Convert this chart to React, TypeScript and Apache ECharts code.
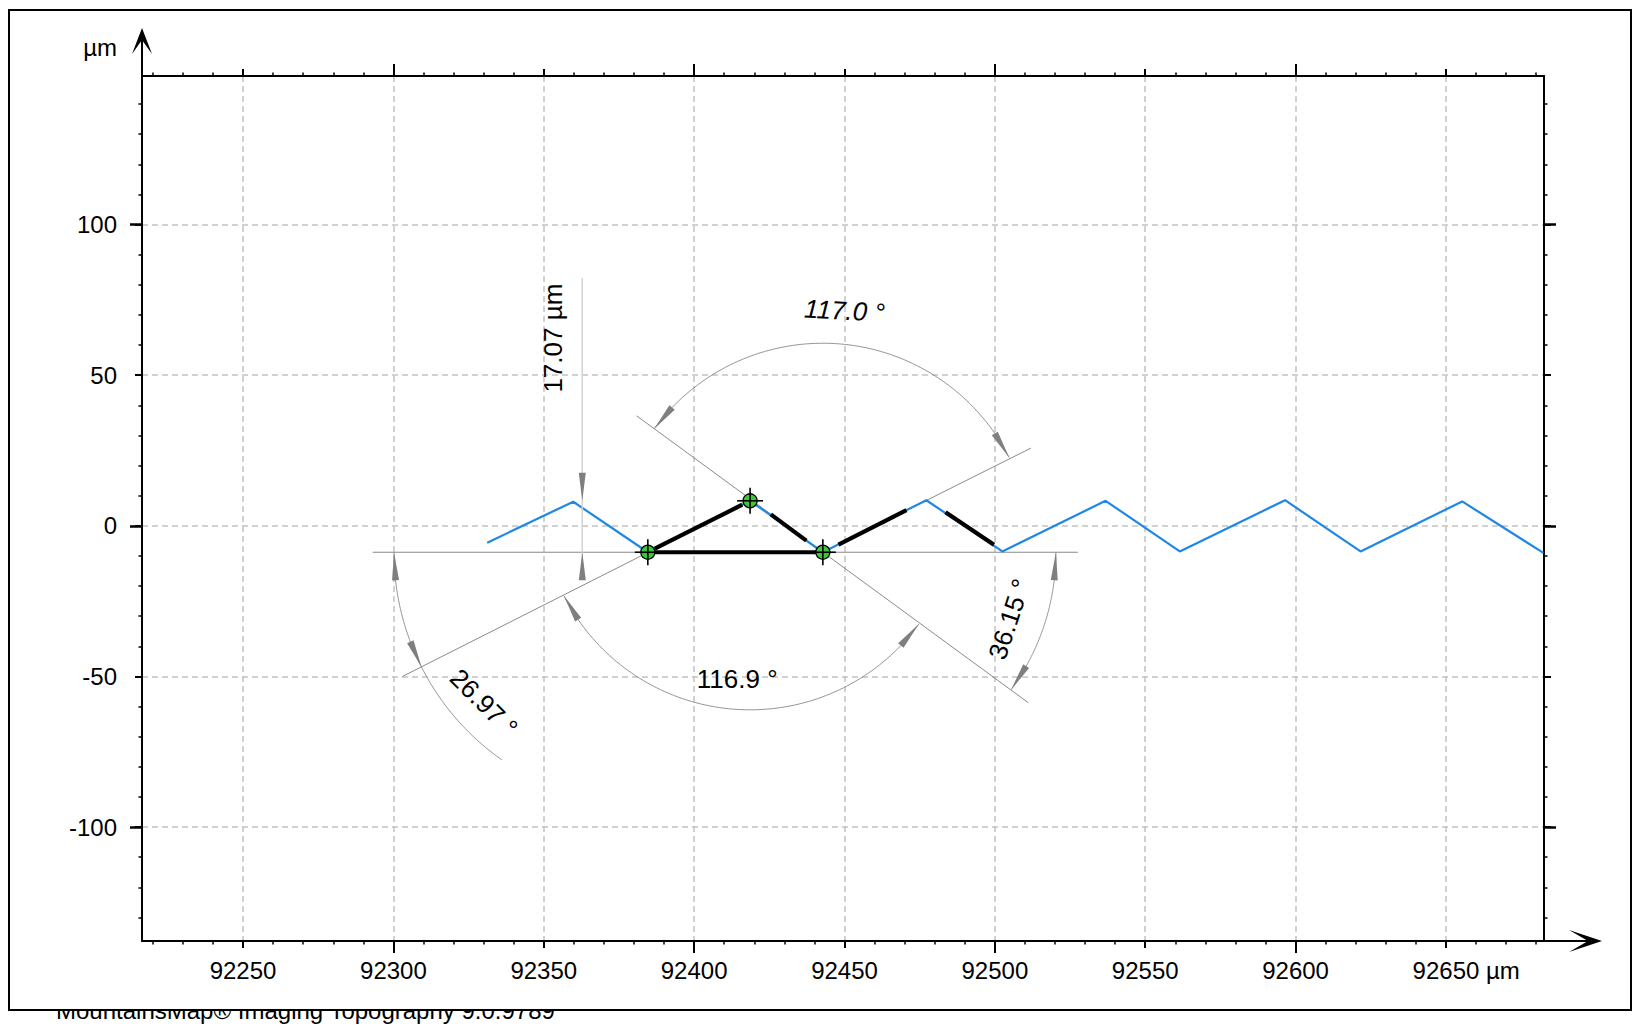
import React, { useEffect, useRef } from 'react';
import * as echarts from 'echarts';

// ---------- axes ----------
const X_MIN = 92216.4;
const X_MAX = 92682.6;
const Y_MIN = -137.8;
const Y_MAX = 149.3;
const X_TICK_LABELS = [92250, 92300, 92350, 92400, 92450, 92500, 92550, 92600, 92650];
const X_LONG_TICKS = [92300, 92400, 92500, 92600];
const Y_TICK_LABELS = [-100, -50, 0, 50, 100];
const Y_LONG_TICKS = [-100, 0, 100];
const X_UNIT = 'µm';
const Y_UNIT = 'µm';
const FOOTER = 'MountainsMap® Imaging Topography 9.0.9789';

// ---------- profile (µm) ----------
const PROFILE_X = [92331.2, 92359.8, 92384.6, 92418.6, 92442.8, 92477.2, 92502.5, 92536.8, 92561.5, 92596.5, 92621.6, 92655.4, 92682.4];
const PROFILE_Y = [-5.6, 8.0, -8.77, 8.3, -8.77, 8.5, -8.5, 8.3, -8.5, 8.5, -8.5, 8.1, -9.0];

// ---------- fitted segments (thick black) ----------
const FIT_X1 = [92384.6, 92386.9, 92425.5, 92448.0, 92483.6];
const FIT_Y1 = [-8.77, -7.6, 3.8, -6.2, 4.5];
const FIT_X2 = [92442.8, 92416.0, 92437.3, 92470.6, 92499.7];
const FIT_Y2 = [-8.77, 7.0, -4.9, 5.2, -6.3];

// ---------- construction lines (thin grey) ----------
const REF_X1 = [92293.1, 92303.0, 92380.9, 92442.8];
const REF_Y1 = [-8.77, -50.0, 36.5, -8.77];
const REF_X2 = [92527.6, 92418.6, 92511.1, 92512.0];
const REF_Y2 = [-8.77, 8.3, -58.7, 25.8];

// ---------- picked points ----------
const MARKER_X = [92384.6, 92418.6, 92442.8];
const MARKER_Y = [-8.77, 8.3, -8.77];

// ---------- angle measurements ----------
const ANGLE_LABELS = ['116.9 °', '117.0 °', '26.97 °', '36.15 °'];
const ANGLE_CX = [92418.6, 92442.8, 92384.6, 92442.8];
const ANGLE_CY = [8.3, -8.77, -8.77, -8.77];
const ANGLE_R = [69.5, 69.5, 84.4, 77.5];
const ANGLE_FROM = [206.97, 26.97, 180, -36.15];
const ANGLE_TO = [323.85, 143.85, 206.97, 0];
const ANGLE_ARC_END = [323.85, 143.85, 234.9, 0];
const ANGLE_LABEL_X = [92414.3, 92450.0, 92330.1, 92504.8];
const ANGLE_LABEL_Y = [-50.8, 71.4, -58.7, -31.0];
const ANGLE_LABEL_ROT = [0, -3, -45, 72];
const ANGLE_LABEL_ITALIC = [false, true, false, false];

// ---------- height measurement ----------
const HEIGHT_X = [92362.8];
const HEIGHT_HIGH = [8.3];
const HEIGHT_LOW = [-8.77];
const HEIGHT_LINE_TOP = [82.2];
const HEIGHT_LABEL = ['17.07 µm'];
const HEIGHT_LABEL_X = [92353.0];
const HEIGHT_LABEL_Y = [62.3];

// ---------- layout / style ----------
const FONT = "'Liberation Sans', Arial, sans-serif";
const GRID_LEFT = 142;
const GRID_TOP = 76;
const GRID_W = 1402;
const GRID_H = 865;
const ARROW_LEN = 28;
const ARROW_HALF = 3.5;
const ARROW_COLOR = '#7f7f7f';

const gridLine = { show: true, lineStyle: { color: '#c2c2c2', width: 1.5, type: [6, 4] as any } };

function arrowPoly(tip: number[], base: number[]) {
  const vx = tip[0] - base[0];
  const vy = tip[1] - base[1];
  const len = Math.hypot(vx, vy) || 1;
  const nx = (-vy / len) * ARROW_HALF;
  const ny = (vx / len) * ARROW_HALF;
  return {
    type: 'polygon',
    shape: { points: [tip, [base[0] + nx, base[1] + ny], [base[0] - nx, base[1] - ny]] },
    style: { fill: ARROW_COLOR },
  };
}

function buildOption() {
  const baseAxis = (extra: any) => ({
    type: 'value',
    min: 0,
    max: 0,
    axisLine: { show: false, onZero: false },
    axisLabel: { show: false },
    splitLine: { show: false },
    ...extra,
  });

  const xAxes = [
    baseAxis({
      position: 'bottom', min: X_MIN, max: X_MAX, minInterval: 50, maxInterval: 50,
      axisLine: { show: true, onZero: false, lineStyle: { color: '#000', width: 2 } },
      axisTick: { show: true, length: 7, customValues: X_TICK_LABELS, lineStyle: { color: '#000', width: 2 } },
      minorTick: { show: true, splitNumber: 5, length: 3.5, lineStyle: { color: '#000', width: 1.5 } },
      axisLabel: {
        show: true, customValues: X_TICK_LABELS, margin: 17, fontSize: 24, fontFamily: FONT, color: '#000',
        formatter: (v: number) => String(Math.round(v)),
      },
      splitLine: gridLine,
    }),
    baseAxis({
      position: 'bottom', min: X_MIN, max: X_MAX, minInterval: 100, maxInterval: 100,
      axisTick: { show: true, length: 12, customValues: X_LONG_TICKS, lineStyle: { color: '#000', width: 2 } },
    }),
    baseAxis({
      position: 'top', min: X_MIN, max: X_MAX, minInterval: 50, maxInterval: 50,
      axisLine: { show: true, onZero: false, lineStyle: { color: '#000', width: 2 } },
      axisTick: { show: true, length: 7, customValues: X_TICK_LABELS, lineStyle: { color: '#000', width: 2 } },
      minorTick: { show: true, splitNumber: 5, length: 3.5, lineStyle: { color: '#000', width: 1.5 } },
    }),
    baseAxis({
      position: 'top', min: X_MIN, max: X_MAX, minInterval: 100, maxInterval: 100,
      axisTick: { show: true, length: 12, customValues: X_LONG_TICKS, lineStyle: { color: '#000', width: 2 } },
    }),
  ];

  const yAxes = [
    baseAxis({
      position: 'left', min: Y_MIN, max: Y_MAX, minInterval: 50, maxInterval: 50,
      axisLine: { show: true, onZero: false, lineStyle: { color: '#000', width: 2 } },
      axisTick: { show: true, length: 7, customValues: Y_TICK_LABELS, lineStyle: { color: '#000', width: 2 } },
      minorTick: { show: true, splitNumber: 5, length: 3.5, lineStyle: { color: '#000', width: 1.5 } },
      axisLabel: {
        show: true, customValues: Y_TICK_LABELS, margin: 25, fontSize: 24, fontFamily: FONT, color: '#000',
        formatter: (v: number) => String(Math.round(v)),
      },
      splitLine: gridLine,
    }),
    baseAxis({
      position: 'left', min: Y_MIN, max: Y_MAX, minInterval: 100, maxInterval: 100,
      axisTick: { show: true, length: 12, customValues: Y_LONG_TICKS, lineStyle: { color: '#000', width: 2.5 } },
    }),
    baseAxis({
      position: 'right', min: Y_MIN, max: Y_MAX, minInterval: 50, maxInterval: 50,
      axisLine: { show: true, onZero: false, lineStyle: { color: '#000', width: 2 } },
      axisTick: { show: true, length: 7, customValues: Y_TICK_LABELS, lineStyle: { color: '#000', width: 2 } },
      minorTick: { show: true, splitNumber: 5, length: 3.5, lineStyle: { color: '#000', width: 1.5 } },
    }),
    baseAxis({
      position: 'right', min: Y_MIN, max: Y_MAX, minInterval: 100, maxInterval: 100,
      axisTick: { show: true, length: 12, customValues: Y_LONG_TICKS, lineStyle: { color: '#000', width: 2.5 } },
    }),
  ];

  const series: any[] = [];

  // construction lines
  REF_X1.forEach((x1, i) => {
    series.push({
      type: 'line', z: 3, silent: true, showSymbol: false, symbol: 'none',
      data: [[x1, REF_Y1[i]], [REF_X2[i], REF_Y2[i]]],
      lineStyle: { color: '#7d7d7d', width: 0.9 },
    });
  });

  // profile
  series.push({
    type: 'line', z: 4, silent: true, showSymbol: false, symbol: 'none',
    data: PROFILE_X.map((x, i) => [x, PROFILE_Y[i]]),
    lineStyle: { color: '#1f88e6', width: 2.2 },
  });

  // fitted segments
  FIT_X1.forEach((x1, i) => {
    series.push({
      type: 'line', z: 5, silent: true, showSymbol: false, symbol: 'none',
      data: [[x1, FIT_Y1[i]], [FIT_X2[i], FIT_Y2[i]]],
      lineStyle: { color: '#000', width: 4.2, cap: 'butt' },
    });
  });

  // height measurement
  series.push({
    type: 'custom', z: 6, silent: true,
    data: HEIGHT_X.map((x, i) => [x, HEIGHT_HIGH[i], HEIGHT_LOW[i], HEIGHT_LINE_TOP[i]]),
    renderItem: (params: any, api: any) => {
      const i = params.dataIndex;
      const top = api.coord([HEIGHT_X[i], HEIGHT_LINE_TOP[i]]);
      const hi = api.coord([HEIGHT_X[i], HEIGHT_HIGH[i]]);
      const lo = api.coord([HEIGHT_X[i], HEIGHT_LOW[i]]);
      const lp = api.coord([HEIGHT_LABEL_X[i], HEIGHT_LABEL_Y[i]]);
      return {
        type: 'group',
        children: [
          { type: 'line', shape: { x1: top[0], y1: top[1], x2: lo[0], y2: lo[1] + ARROW_LEN }, style: { stroke: '#d2d2d2', lineWidth: 1.5 } },
          arrowPoly(hi, [hi[0], hi[1] - ARROW_LEN]),
          arrowPoly(lo, [lo[0], lo[1] + ARROW_LEN]),
          {
            type: 'text', x: lp[0], y: lp[1], rotation: Math.PI / 2,
            style: { text: HEIGHT_LABEL[i], fill: '#000', fontSize: 26, fontFamily: FONT, align: 'center', verticalAlign: 'middle' },
          },
        ],
      };
    },
  });

  // angle measurements
  series.push({
    type: 'custom', z: 6, silent: true,
    data: ANGLE_CX.map((x, i) => [x, ANGLE_CY[i]]),
    renderItem: (params: any, api: any) => {
      const i = params.dataIndex;
      const c = api.coord([ANGLE_CX[i], ANGLE_CY[i]]);
      const r = api.size([ANGLE_R[i], 0])[0];
      const pt = (deg: number) => {
        const a = (deg * Math.PI) / 180;
        return [c[0] + r * Math.cos(a), c[1] - r * Math.sin(a)];
      };
      const a0 = ANGLE_FROM[i];
      const a1 = ANGLE_ARC_END[i];
      const pts: number[][] = [];
      const n = 90;
      for (let k = 0; k <= n; k++) pts.push(pt(a0 + ((a1 - a0) * k) / n));
      const d = ((ARROW_LEN / r) * 180) / Math.PI;
      const lp = api.coord([ANGLE_LABEL_X[i], ANGLE_LABEL_Y[i]]);
      return {
        type: 'group',
        children: [
          { type: 'polyline', shape: { points: pts }, style: { stroke: '#8a8a8a', lineWidth: 0.9, fill: null } },
          arrowPoly(pt(ANGLE_FROM[i]), pt(ANGLE_FROM[i] + d)),
          arrowPoly(pt(ANGLE_TO[i]), pt(ANGLE_TO[i] - d)),
          {
            type: 'text', x: lp[0], y: lp[1], rotation: (ANGLE_LABEL_ROT[i] * Math.PI) / 180,
            style: {
              text: ANGLE_LABELS[i], fill: '#000', fontSize: 26, fontFamily: FONT,
              fontStyle: ANGLE_LABEL_ITALIC[i] ? 'italic' : 'normal', align: 'center', verticalAlign: 'middle',
            },
          },
        ],
      };
    },
  });

  // picked points
  series.push({
    type: 'custom', z: 8, silent: true,
    data: MARKER_X.map((x, i) => [x, MARKER_Y[i]]),
    renderItem: (params: any, api: any) => {
      const p = api.coord([api.value(0), api.value(1)]);
      return {
        type: 'group',
        children: [
          { type: 'circle', shape: { cx: p[0], cy: p[1], r: 7 }, style: { fill: '#3cc83a', stroke: '#000', lineWidth: 1.3 } },
          { type: 'line', shape: { x1: p[0] - 13, y1: p[1], x2: p[0] + 13, y2: p[1] }, style: { stroke: '#000', lineWidth: 1.6 } },
          { type: 'line', shape: { x1: p[0], y1: p[1] - 13, x2: p[0], y2: p[1] + 13 }, style: { stroke: '#000', lineWidth: 1.6 } },
        ],
      };
    },
  });

  const gx0 = GRID_LEFT;
  const gy1 = GRID_TOP + GRID_H;
  const gx1 = GRID_LEFT + GRID_W;

  const graphic: any[] = [
    { type: 'text', z: -20, x: 56, y: 1010, style: { text: FOOTER, fill: '#000', fontSize: 24, fontFamily: FONT, verticalAlign: 'middle' } },
    { type: 'rect', z: -10, shape: { x: 9, y: 10, width: 1622, height: 1000 }, style: { fill: '#fff', stroke: '#000', lineWidth: 2 } },
    // y axis extension + arrow
    { type: 'line', z: 10, shape: { x1: gx0, y1: GRID_TOP, x2: gx0, y2: 34 }, style: { stroke: '#000', lineWidth: 2 } },
    { type: 'polygon', z: 10, shape: { points: [[gx0, 28], [gx0 - 10, 54], [gx0, 40], [gx0 + 10, 54]] }, style: { fill: '#000' } },
    // x axis extension + arrow
    { type: 'line', z: 10, shape: { x1: gx1, y1: gy1, x2: 1596, y2: gy1 }, style: { stroke: '#000', lineWidth: 2 } },
    { type: 'polygon', z: 10, shape: { points: [[1602, gy1], [1569, gy1 - 11], [1588, gy1], [1569, gy1 + 11]] }, style: { fill: '#000' } },
    { type: 'text', z: 10, x: 117, y: 47, style: { text: Y_UNIT, fill: '#000', fontSize: 24, fontFamily: FONT, align: 'right', verticalAlign: 'middle' } },
  ];

  return {
    animation: false,
    backgroundColor: '#fff',
    textStyle: { fontFamily: FONT },
    grid: { left: GRID_LEFT, top: GRID_TOP, width: GRID_W, height: GRID_H, containLabel: false, outerBoundsMode: 'none' },
    xAxis: xAxes,
    yAxis: yAxes,
    series,
    graphic,
  };
}

export default function App() {
  const ref = useRef<HTMLDivElement>(null);
  useEffect(() => {
    if (!ref.current) return;
    const chart = echarts.init(ref.current, undefined, { renderer: 'svg' });
    const option: any = buildOption();
    chart.setOption(option);
    const px = chart.convertToPixel({ xAxisIndex: 0 }, X_TICK_LABELS[X_TICK_LABELS.length - 1]) as number;
    const labelY = GRID_TOP + GRID_H + 17 + 12;
    chart.setOption({
      graphic: [
        ...option.graphic,
        { type: 'text', z: 10, x: px + 40, y: labelY, style: { text: X_UNIT, fill: '#000', fontSize: 24, fontFamily: FONT, align: 'left', verticalAlign: 'middle' } },
      ],
    });
    return () => chart.dispose();
  }, []);
  return (
    <div
      ref={ref}
      style={{ position: 'absolute', left: 0, top: 0, width: 1649, height: 1029, background: '#fff' }}
    />
  );
}
